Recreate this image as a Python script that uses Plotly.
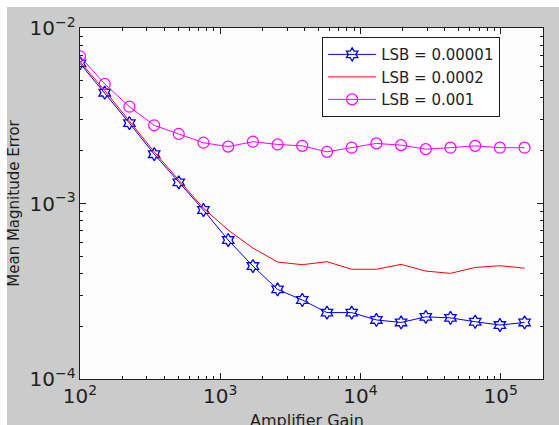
import plotly.graph_objects as go

# Amplifier gain sweep (x) and mean magnitude error for three LSB sizes
gain = [100, 150, 225, 338, 506, 759, 1139, 1709, 2563, 3844, 5767, 8650,
        12975, 19462, 29193, 43789, 65684, 98526, 147789]
err_lsb_00001 = [6.29e-3, 4.28e-3, 2.87e-3, 1.91e-3, 1.32e-3, 9.18e-4, 6.19e-4,
                 4.40e-4, 3.24e-4, 2.82e-4, 2.39e-4, 2.39e-4, 2.17e-4, 2.10e-4,
                 2.26e-4, 2.23e-4, 2.12e-4, 2.03e-4, 2.10e-4]
err_lsb_0002 = [6.43e-3, 4.40e-3, 2.95e-3, 1.97e-3, 1.36e-3, 9.4e-4, 7.06e-4,
                5.57e-4, 4.64e-4, 4.48e-4, 4.66e-4, 4.22e-4, 4.22e-4, 4.50e-4,
                4.12e-4, 4.00e-4, 4.32e-4, 4.42e-4, 4.28e-4]
err_lsb_001 = [6.9e-3, 4.80e-3, 3.56e-3, 2.79e-3, 2.49e-3, 2.22e-3, 2.11e-3,
               2.25e-3, 2.17e-3, 2.13e-3, 1.97e-3, 2.08e-3, 2.20e-3, 2.15e-3,
               2.04e-3, 2.08e-3, 2.13e-3, 2.08e-3, 2.08e-3]
series_names = ["LSB = 0.00001", "LSB = 0.0002", "LSB = 0.001"]

FONT = "DejaVu Sans, Verdana, sans-serif"
GRAY = "#cbcbcb"
INK = "#1e1e1e"

fig = go.Figure()
fig.add_trace(go.Scatter(
    x=gain, y=err_lsb_00001, name=series_names[0], mode="lines+markers",
    line=dict(color="#0000ff", width=1),
    marker=dict(symbol="hexagram-open", size=10, color="#0000ff",
                line=dict(width=1.3, color="#0000ff")),
))
fig.add_trace(go.Scatter(
    x=gain, y=err_lsb_0002, name=series_names[1], mode="lines",
    line=dict(color="#ff0000", width=1),
))
fig.add_trace(go.Scatter(
    x=gain, y=err_lsb_001, name=series_names[2], mode="lines+markers",
    line=dict(color="#ff00ff", width=1),
    marker=dict(symbol="circle-open", size=11, color="#ff00ff",
                line=dict(width=1.2, color="#ff00ff")),
))

axis_common = dict(
    type="log", showline=True, linecolor=INK, linewidth=1.2, mirror="ticks",
    ticks="inside", ticklen=6, tickcolor=INK, showgrid=False, zeroline=False,
    dtick=1, exponentformat="power", tickfont=dict(family=FONT, size=16, color=INK),
    minor=dict(ticks="inside", ticklen=3, tickcolor=INK, showgrid=False),
)

fig.update_layout(
    width=559, height=425,
    margin=dict(l=80, r=16, t=28, b=46),
    paper_bgcolor=GRAY, plot_bgcolor="#fdfdfd",
    font=dict(family=FONT, color=INK),
    showlegend=True,
    legend=dict(
        x=0.523, y=0.974, xanchor="left", yanchor="top",
        bgcolor="white", bordercolor=INK, borderwidth=1,
        font=dict(family=FONT, size=15, color=INK),
        tracegroupgap=0, itemwidth=48,
    ),
    xaxis=dict(axis_common, range=[2, 5.301]),
    yaxis=dict(axis_common, range=[-4, -2],
               title=dict(text="Mean Magnitude Error", standoff=6,
                          font=dict(family=FONT, size=15, color=INK))),
)

# x-axis title sits low, partly past the bottom edge
fig.add_annotation(
    text="Amplifier Gain", xref="paper", yref="paper", x=0.49, y=-0.085,
    xanchor="center", yanchor="top", showarrow=False,
    font=dict(family=FONT, size=16, color=INK),
)

# thin white border along the top and left edges of the figure
fig.add_shape(type="rect", xref="paper", yref="paper",
              x0=-80 / 463, x1=1 + 16 / 463, y0=(379 - 7) / 351, y1=379 / 351,
              fillcolor="white", line=dict(width=0), layer="below")
fig.add_shape(type="rect", xref="paper", yref="paper",
              x0=-80 / 463, x1=-73 / 463, y0=-46 / 351, y1=379 / 351,
              fillcolor="white", line=dict(width=0), layer="below")

fig.write_html("out.html")
